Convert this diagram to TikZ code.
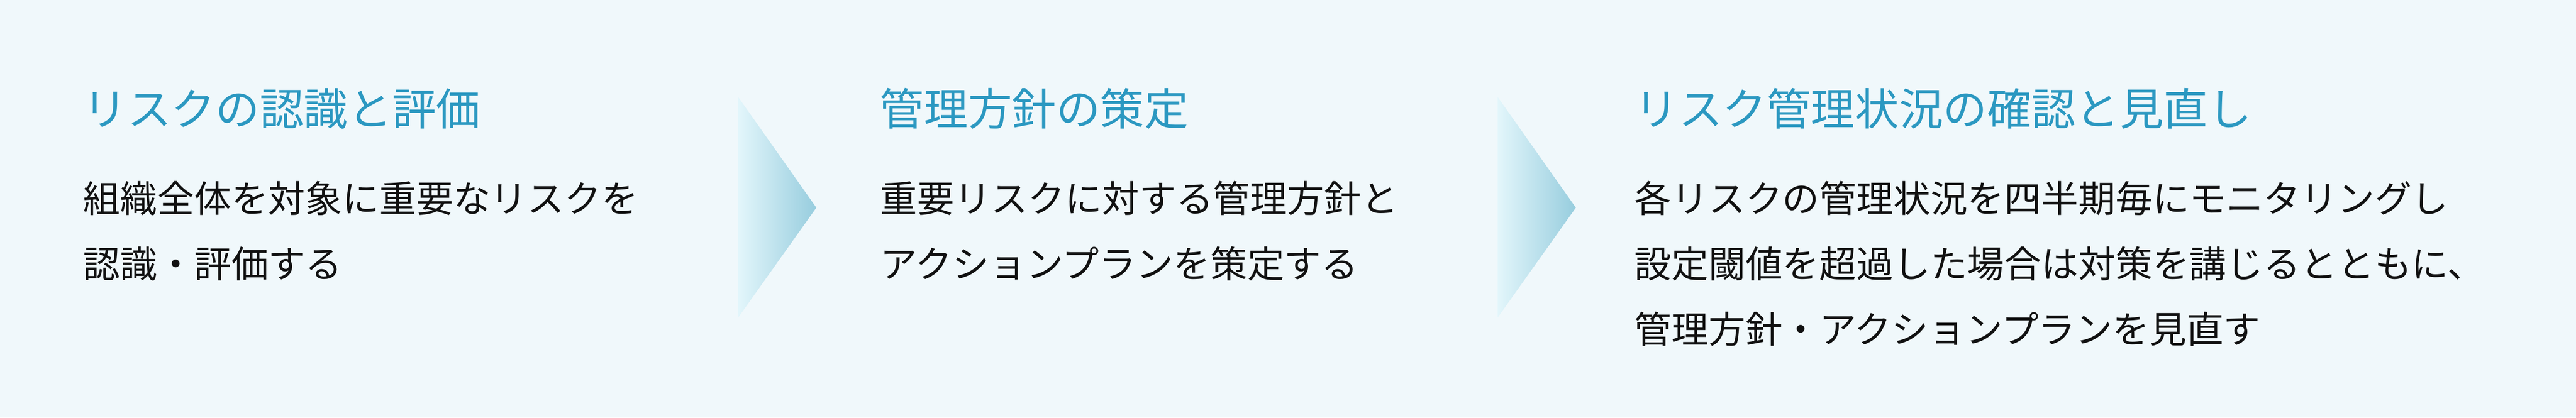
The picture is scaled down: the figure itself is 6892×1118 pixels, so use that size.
\documentclass[tikz,border=0pt]{standalone}
\usepackage{fontspec}
\setmainfont{Noto Sans CJK JP}
\definecolor{bgc}{HTML}{F0F8FB}
\definecolor{ttl}{HTML}{2B98C1}
\definecolor{arrL}{HTML}{E3F6FB}
\definecolor{arrR}{HTML}{97CDDE}
\definecolor{txt}{HTML}{111111}
\begin{document}
\begin{tikzpicture}[x=0.25pt,y=-0.25pt,
  ttlnode/.style={anchor=base west,inner sep=0pt,outer sep=0pt,text=ttl,font=\fontsize{29.5pt}{29.5pt}\selectfont},
  bodynode/.style={anchor=base west,inner sep=0pt,outer sep=0pt,text=txt,font=\fontsize{24.75pt}{24.75pt}\selectfont},
  chevron/.style={left color=arrL,right color=arrR,draw=none}]
\fill[bgc] (0,0) rectangle (6892,1118);
\useasboundingbox (0,0) rectangle (6892,1118);

% column 1
\node[ttlnode] (t1) at (223,335) {リスクの認識と評価};
\node[bodynode] (b1a) at (223,568) {組織全体を対象に重要なリスクを};
\node[bodynode] (b1b) at (223,743) {認識・評価する};

% arrow 1
\coordinate (a1t) at (1975,260);
\coordinate (a1p) at (2184,556);
\coordinate (a1b) at (1975,850);
\shade[chevron] (a1t) -- (a1p) -- (a1b) -- cycle;

% column 2
\node[ttlnode] (t2) at (2354,335) {管理方針の策定};
\node[bodynode] (b2a) at (2355,568) {重要リスクに対する管理方針と};
\node[bodynode] (b2b) at (2355,743) {アクションプランを策定する};

% arrow 2
\coordinate (a2t) at (4007,260);
\coordinate (a2p) at (4216,556);
\coordinate (a2b) at (4007,850);
\shade[chevron] (a2t) -- (a2p) -- (a2b) -- cycle;

% column 3
\node[ttlnode] (t3) at (4373,335) {リスク管理状況の確認と見直し};
\node[bodynode] (b3a) at (4373,568) {各リスクの管理状況を四半期毎にモニタリングし};
\node[bodynode] (b3b) at (4373,743) {設定閾値を超過した場合は対策を講じるとともに、};
\node[bodynode] (b3c) at (4373,918) {管理方針・アクションプランを見直す};
\end{tikzpicture}
\end{document}
